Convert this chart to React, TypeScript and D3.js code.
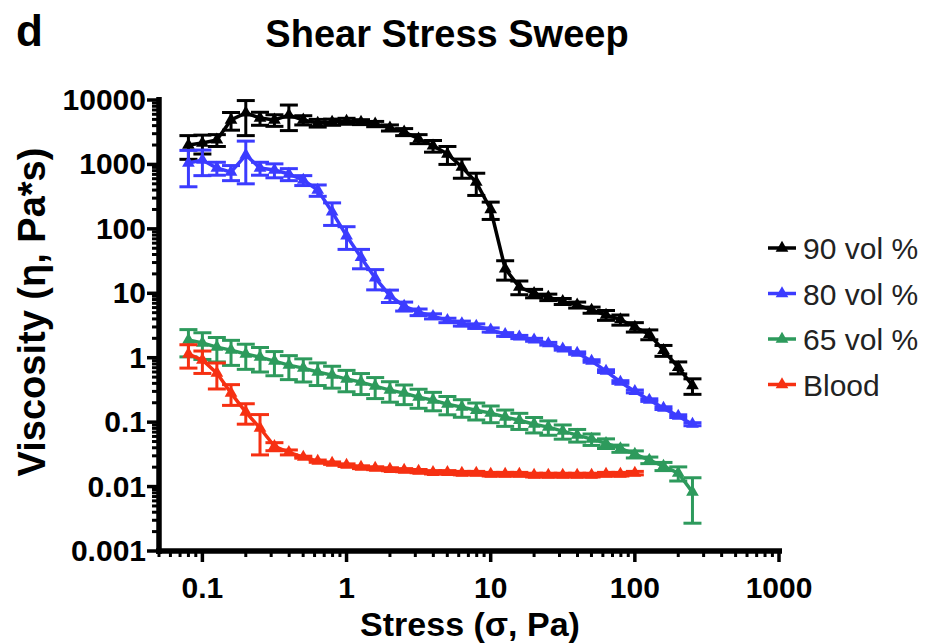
import React, { useEffect, useRef } from 'react'
import * as d3 from 'd3'

// stress values (Pa), shared by all series
const stress = [
    0.08, 0.1, 0.126, 0.158, 0.2, 0.251, 0.316, 0.398, 0.501, 0.631, 0.794, 1,
    1.26, 1.58, 2, 2.51, 3.16, 3.98, 5.01, 6.31, 7.94, 10, 12.6, 15.8, 20, 25.1,
    31.6, 39.8, 50.1, 63.1, 79.4, 100, 126, 158, 200, 251,
]

const vol90 = [
    2000, 2150, 2400, 4900, 6300, 5250, 4900, 5850, 4900, 4400, 4550, 4700,
    4550, 4250, 3700, 3200, 2500, 1950, 1450, 910, 530, 200, 24, 12.5, 10, 8.7,
    7.5, 6.6, 5.5, 4.6, 3.9, 3.0, 2.3, 1.3, 0.71, 0.37,
]
const vol90Sd = [
    800, 700, 500, 1500, 3500, 1200, 1000, 2500, 800, 600, 500, 500, 400, 400,
    400, 400, 400, 400, 450, 300, 200, 60, 8, 3, 1.5, 1, 0.8, 0.7, 0.6, 0.8,
    0.7, 0.5, 0.4, 0.25, 0.15, 0.1,
]

const vol80 = [
    1050, 1170, 880, 760, 1400, 880, 820, 710, 570, 400, 183, 78, 36, 17.3,
    9.2, 6.3, 5.1, 4.4, 3.8, 3.4, 3.1, 2.7, 2.3, 2.1, 1.9, 1.65, 1.37, 1.18,
    0.89, 0.62, 0.42, 0.3, 0.22, 0.165, 0.124, 0.093,
]
const vol80Sd = [
    600, 500, 200, 200, 900, 200, 200, 150, 100, 80, 70, 30, 12, 6, 2, 1, 0.6,
    0.4, 0.3, 0.3, 0.25, 0.2, 0.15, 0.12, 0.1, 0.08, 0.06, 0.05, 0.04, 0.03,
    0.02, 0.015, 0.01, 0.008, 0.006, 0.005,
]

const vol65 = [
    1.88, 1.69, 1.46, 1.31, 1.14, 1.02, 0.885, 0.767, 0.69, 0.6, 0.537, 0.466,
    0.418, 0.362, 0.314, 0.282, 0.244, 0.22, 0.19, 0.171, 0.153, 0.138, 0.12,
    0.107, 0.093, 0.0836, 0.0724, 0.063, 0.0545, 0.047, 0.039, 0.0318, 0.0257,
    0.0207, 0.0162, 0.0082,
]
const vol65Sd = [
    0.85, 0.75, 0.6, 0.55, 0.48, 0.42, 0.36, 0.31, 0.27, 0.23, 0.2, 0.17, 0.15,
    0.13, 0.11, 0.095, 0.08, 0.07, 0.06, 0.052, 0.045, 0.04, 0.034, 0.03, 0.025,
    0.021, 0.018, 0.014, 0.011, 0.008, 0.005, 0.004, 0.003, 0.003, 0.004,
    0.0055,
]

const blood = [
    1.14, 0.92, 0.577, 0.282, 0.143, 0.081, 0.042, 0.034, 0.0286, 0.0248,
    0.0231, 0.0215, 0.02, 0.0193, 0.0186, 0.018, 0.0174, 0.0167, 0.0167,
    0.0162, 0.0162, 0.0156, 0.0156, 0.0156, 0.0151, 0.0151, 0.0151, 0.0151,
    0.0151, 0.0156, 0.0156, 0.0162,
]
const bloodSd = [
    0.45, 0.35, 0.25, 0.1, 0.05, 0.05, 0.006, 0.003, 0.001, 0.001, 0.001,
    0.001, 0.001, 0.001, 0.001, 0.001, 0.001, 0.001, 0.001, 0.001, 0.001,
    0.001, 0.001, 0.001, 0.001, 0.001, 0.001, 0.001, 0.001, 0.001, 0.001,
    0.001,
]

const seriesNames = ['90 vol %', '80 vol %', '65 vol %', 'Blood']
const seriesColors = ['#000000', '#3c3cff', '#2d9a5c', '#f63012']
const seriesValues = [vol90, vol80, vol65, blood]
const seriesSd = [vol90Sd, vol80Sd, vol65Sd, bloodSd]

const xTicks = [0.1, 1, 10, 100, 1000]
const yTicks = [0.001, 0.01, 0.1, 1, 10, 100, 1000, 10000]

const FONT = '"Liberation Sans", Arial, Helvetica, sans-serif'

const App: React.FC = () => {
    const svgRef = useRef<SVGSVGElement | null>(null)

    useEffect(() => {
        if (!svgRef.current) return
        const svg = d3.select(svgRef.current)
        svg.selectAll('*').remove()

        const x = d3.scaleLog().domain([0.05, 1000]).range([159, 779])
        const y = d3.scaleLog().domain([0.001, 10000]).range([551, 100])

        // titles
        svg.append('text')
            .attr('x', 16)
            .attr('y', 46)
            .attr('font-family', FONT)
            .attr('font-weight', 'bold')
            .attr('font-size', 44)
            .text('d')

        svg.append('text')
            .attr('x', 447)
            .attr('y', 47)
            .attr('text-anchor', 'middle')
            .attr('font-family', FONT)
            .attr('font-weight', 'bold')
            .attr('font-size', 38)
            .text('Shear Stress Sweep')

        svg.append('text')
            .attr('transform', 'translate(45, 312) rotate(-90)')
            .attr('text-anchor', 'middle')
            .attr('font-family', FONT)
            .attr('font-weight', 'bold')
            .attr('font-size', 38)
            .text('Viscosity (η, Pa*s)')

        svg.append('text')
            .attr('x', 470)
            .attr('y', 636)
            .attr('text-anchor', 'middle')
            .attr('font-family', FONT)
            .attr('font-weight', 'bold')
            .attr('font-size', 34)
            .text('Stress (σ, Pa)')

        // minor ticks
        const minorX: number[] = []
        const minorY: number[] = []
        for (let e = -2; e <= 2; e++) {
            for (let m = 2; m <= 9; m++) {
                const v = m * Math.pow(10, e)
                if (v >= 0.05 && v < 1000) minorX.push(v)
            }
        }
        for (let e = -3; e <= 3; e++) {
            for (let m = 2; m <= 9; m++) minorY.push(m * Math.pow(10, e))
        }

        const axes = svg.append('g').attr('stroke', '#000')

        axes.selectAll('line.ymin')
            .data(minorY)
            .enter()
            .append('line')
            .attr('x1', 152)
            .attr('x2', 159)
            .attr('y1', (d) => y(d))
            .attr('y2', (d) => y(d))
            .attr('stroke-width', 3)

        axes.selectAll('line.ymaj')
            .data(yTicks)
            .enter()
            .append('line')
            .attr('x1', 147)
            .attr('x2', 159)
            .attr('y1', (d) => y(d))
            .attr('y2', (d) => y(d))
            .attr('stroke-width', 3.5)

        axes.selectAll('line.xmin')
            .data(minorX)
            .enter()
            .append('line')
            .attr('x1', (d) => x(d))
            .attr('x2', (d) => x(d))
            .attr('y1', 551)
            .attr('y2', 557)
            .attr('stroke-width', 3)

        axes.selectAll('line.xmaj')
            .data(xTicks)
            .enter()
            .append('line')
            .attr('x1', (d) => x(d))
            .attr('x2', (d) => x(d))
            .attr('y1', 551)
            .attr('y2', 562)
            .attr('stroke-width', 3.5)

        axes.append('line')
            .attr('x1', 159)
            .attr('x2', 159)
            .attr('y1', 97)
            .attr('y2', 554)
            .attr('stroke-width', 5.5)
        axes.append('line')
            .attr('x1', 156)
            .attr('x2', 782)
            .attr('y1', 551)
            .attr('y2', 551)
            .attr('stroke-width', 5.5)

        svg.selectAll('text.ylab')
            .data(yTicks)
            .enter()
            .append('text')
            .attr('x', 146)
            .attr('y', (d) => y(d) + 10)
            .attr('text-anchor', 'end')
            .attr('font-family', FONT)
            .attr('font-weight', 'bold')
            .attr('font-size', 30)
            .text((d) => String(d))

        svg.selectAll('text.xlab')
            .data(xTicks)
            .enter()
            .append('text')
            .attr('x', (d) => x(d))
            .attr('y', 598)
            .attr('text-anchor', 'middle')
            .attr('font-family', FONT)
            .attr('font-weight', 'bold')
            .attr('font-size', 30)
            .text((d) => String(d))

        const tri = d3.symbol().type(d3.symbolTriangle).size(70)
        const line = d3
            .line<[number, number]>()
            .x((d) => x(d[0]))
            .y((d) => y(d[1]))

        seriesValues.forEach((vals, si) => {
            const color = seriesColors[si]
            const pts: [number, number][] = vals.map((v, i) => [stress[i], v])
            const g = svg.append('g')

            // error bars
            const eb = g
                .selectAll('g.err')
                .data(pts.map((p, i) => ({ p, sd: seriesSd[si][i] })))
                .enter()
                .append('g')
                .attr('stroke', color)
                .attr('stroke-width', 3)
            const hi = (d) => y(d.p[1] + d.sd)
            const lo = (d) => y(Math.max(d.p[1] - d.sd, 0.0011))
            eb.append('line')
                .attr('x1', (d) => x(d.p[0]))
                .attr('x2', (d) => x(d.p[0]))
                .attr('y1', hi)
                .attr('y2', lo)
            eb.append('line')
                .attr('x1', (d) => x(d.p[0]) - 9)
                .attr('x2', (d) => x(d.p[0]) + 9)
                .attr('y1', hi)
                .attr('y2', hi)
            eb.append('line')
                .attr('x1', (d) => x(d.p[0]) - 9)
                .attr('x2', (d) => x(d.p[0]) + 9)
                .attr('y1', lo)
                .attr('y2', lo)

            g.append('path')
                .attr('d', line(pts))
                .attr('fill', 'none')
                .attr('stroke', color)
                .attr('stroke-width', 3.5)

            g.selectAll('path.pt')
                .data(pts)
                .enter()
                .append('path')
                .attr('d', tri)
                .attr('transform', (d) => `translate(${x(d[0])},${y(d[1])})`)
                .attr('fill', color)
        })

        // legend
        const legend = svg
            .selectAll('g.leg')
            .data(seriesNames)
            .enter()
            .append('g')
            .attr('transform', (d, i) => `translate(768, ${248 + i * 45.5})`)
        legend
            .append('line')
            .attr('x1', 0)
            .attr('x2', 28)
            .attr('stroke', (d, i) => seriesColors[i])
            .attr('stroke-width', 3.5)
        legend
            .append('path')
            .attr('d', tri)
            .attr('transform', 'translate(14,0)')
            .attr('fill', (d, i) => seriesColors[i])
        legend
            .append('text')
            .attr('x', 35)
            .attr('y', 11)
            .attr('font-family', FONT)
            .attr('font-size', 30)
            .attr('fill', '#222')
            .text((d) => d)
    }, [])

    return (
        <div style={{ position: 'absolute', left: 0, top: 0 }}>
            <svg ref={svgRef} width={932} height={644} style={{ display: 'block', background: '#fff' }}></svg>
        </div>
    )
}

export default App
